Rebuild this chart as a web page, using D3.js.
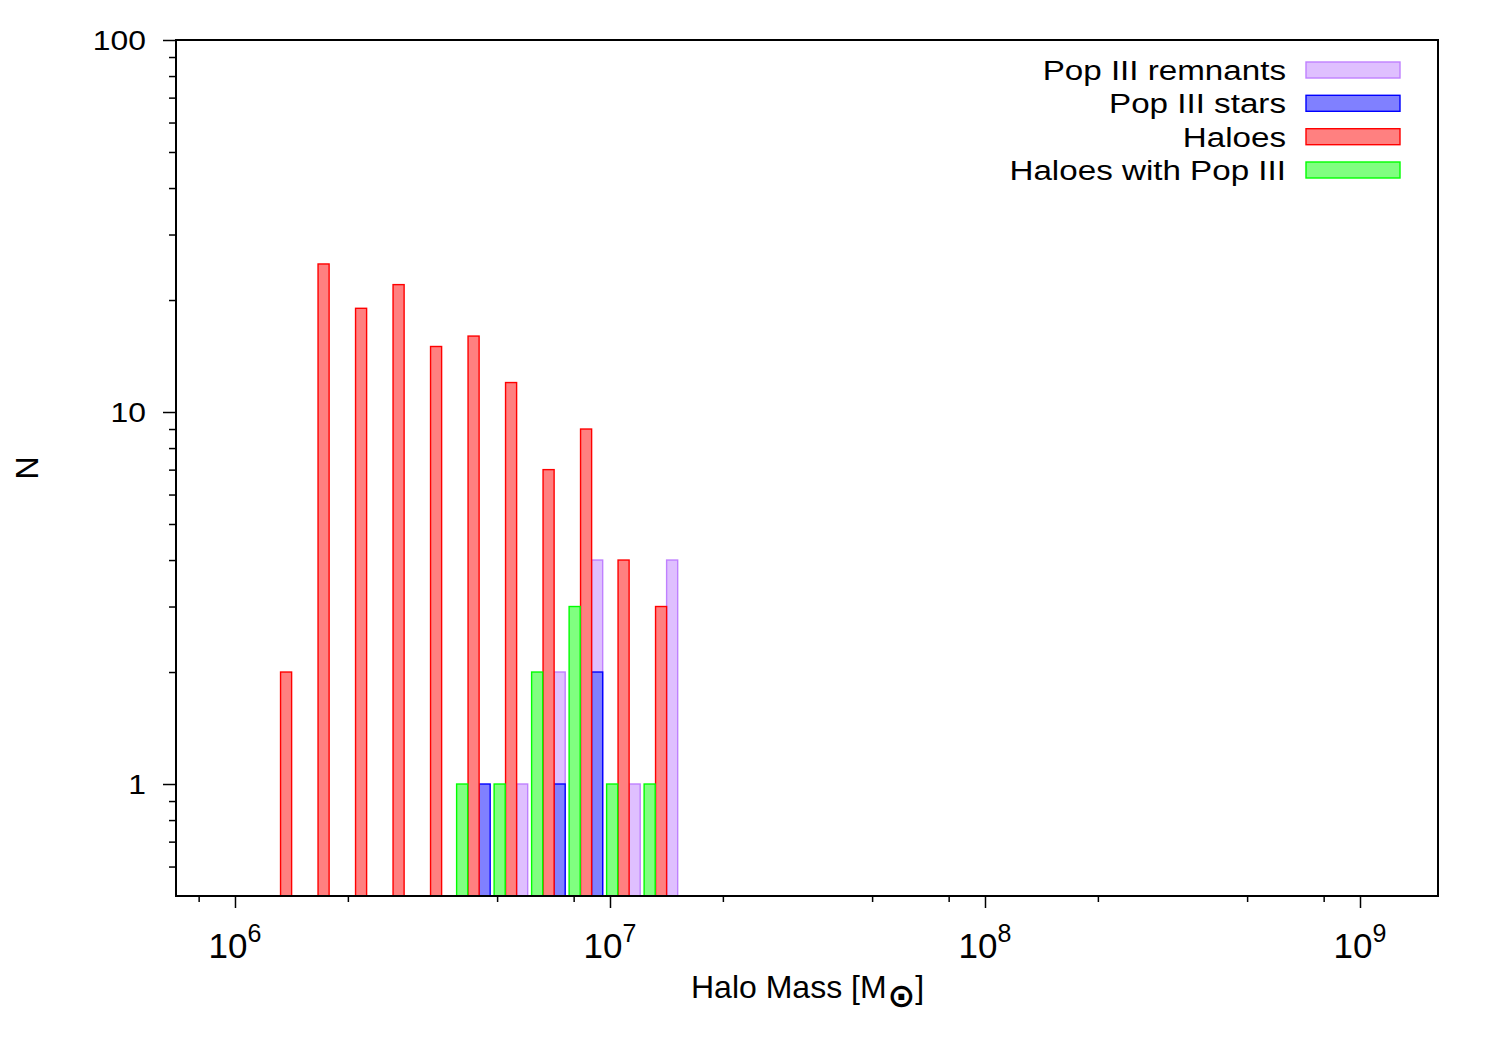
<!DOCTYPE html>
<html><head><meta charset="utf-8">
<script src="https://cdn.jsdelivr.net/npm/d3@7"></script>
<style>
body{margin:0;background:#fff}
text{font-family:"Liberation Sans",Arial,Helvetica,sans-serif;fill:#000}
</style>
</head><body>
<svg id="chart" width="1500" height="1050"></svg>
<script>
// ---- data ----
const binLowerLog = [6.1, 6.2, 6.3, 6.4, 6.5, 6.6, 6.7, 6.8, 6.9, 7.0, 7.1]; // log10(M) bin lower edges
const haloes         = [2, 25, 19, 22, 15, 16, 12, 7, 9, 4, 3];
const haloesWithPop3 = [0, 0, 0, 0, 0, 1, 1, 2, 3, 1, 1];
const pop3Stars      = [0, 0, 0, 0, 0, 1, 0, 1, 2, 0, 0];
const pop3Remnants   = [0, 0, 0, 0, 0, 0, 1, 2, 4, 1, 4];
const xMajorTicks = [1e6, 1e7, 1e8, 1e9];
const xTickExponents = ["6", "7", "8", "9"];
const yMajorTicks = [1, 10, 100];
const yTickLabels = ["1", "10", "100"];
const legendLabels = ["Pop III remnants", "Pop III stars", "Haloes", "Haloes with Pop III"];

// ---- layout / styles ----
const W = 1500, H = 1050;
const plot = {left: 176, right: 1438, top: 40, bottom: 896};
const slotWidth = 0.0295;   // dex
const series = [
  {name: legendLabels[0], values: pop3Remnants,   offset: 0.051,  fill: "#dfbfff", stroke: "#bf80ff"},
  {name: legendLabels[1], values: pop3Stars,      offset: 0.051,  fill: "#8080ff", stroke: "#0000ff"},
  {name: legendLabels[2], values: haloes,         offset: 0.0215, fill: "#ff8080", stroke: "#ff0000"},
  {name: legendLabels[3], values: haloesWithPop3, offset: -0.009, fill: "#80ff80", stroke: "#00ff00"}
];

const svg = d3.select("#chart");
svg.append("rect").attr("width", W).attr("height", H).attr("fill", "#fff");

const x = d3.scaleLog().domain([Math.pow(10, 5.8427), Math.pow(10, 9.208)]).range([plot.left, plot.right]);
const y = d3.scaleLog().domain([0.5, 100]).range([plot.bottom, plot.top]);

svg.append("clipPath").attr("id", "clip").append("rect")
  .attr("x", plot.left).attr("y", plot.top)
  .attr("width", plot.right - plot.left).attr("height", plot.bottom - plot.top);

const barsG = svg.append("g").attr("clip-path", "url(#clip)");
series.forEach(s => {
  const d = binLowerLog.map((e, i) => ({e, v: s.values[i]})).filter(o => o.v > 0);
  barsG.append("g").selectAll("rect").data(d).join("rect")
    .attr("x", o => x(Math.pow(10, o.e + s.offset)))
    .attr("width", o => x(Math.pow(10, o.e + s.offset + slotWidth)) - x(Math.pow(10, o.e + s.offset)))
    .attr("y", o => y(o.v))
    .attr("height", o => y(0.5) - y(o.v) + 2)
    .attr("fill", s.fill)
    .attr("stroke", s.stroke)
    .attr("stroke-width", 1.4);
});

const [xd0, xd1] = x.domain();
const xMinor = [];
for (let p = 5; p <= 9; p++) [2, 5, 8].forEach(m => { const v = m * Math.pow(10, p); if (v >= xd0 && v <= xd1) xMinor.push(v); });
const yMinor = [];
for (let p = -1; p <= 1; p++) for (let m = 2; m <= 9; m++) { const v = m * Math.pow(10, p); if (v > 0.5 && v < 100) yMinor.push(v); }

function styleAxis(g) {
  g.select(".domain").remove();
  g.selectAll(".tick line").attr("stroke", "#000").attr("stroke-width", 1.5);
  g.selectAll(".tick text").remove();
}

// x axis
svg.append("g").attr("transform", `translate(0,${plot.bottom})`)
  .call(d3.axisBottom(x).tickValues(xMajorTicks).tickSize(12).tickFormat(""))
  .call(styleAxis);
svg.append("g").attr("transform", `translate(0,${plot.bottom})`)
  .call(d3.axisBottom(x).tickValues(xMinor).tickSize(6).tickFormat(""))
  .call(styleAxis);
const xl = svg.append("g").selectAll("text").data(xMajorTicks).join("text")
  .attr("x", d => x(d)).attr("y", 958)
  .attr("text-anchor", "middle")
  .style("font-size", "35px");
xl.append("tspan").text("10");
xl.append("tspan").attr("dy", -16).style("font-size", "25px").text((d, i) => xTickExponents[i]);

// y axis
svg.append("g").attr("transform", `translate(${plot.left},0)`)
  .call(d3.axisLeft(y).tickValues(yMajorTicks).tickSize(13).tickFormat(""))
  .call(styleAxis);
svg.append("g").attr("transform", `translate(${plot.left},0)`)
  .call(d3.axisLeft(y).tickValues(yMinor).tickSize(7).tickFormat(""))
  .call(styleAxis);
svg.append("g").selectAll("text").data(yMajorTicks).join("text")
  .attr("transform", d => `translate(146,${y(d) + 9.5}) scale(1.18,1)`)
  .attr("text-anchor", "end")
  .style("font-size", "27px")
  .text((d, i) => yTickLabels[i]);

// border
svg.append("rect")
  .attr("x", plot.left).attr("y", plot.top)
  .attr("width", plot.right - plot.left).attr("height", plot.bottom - plot.top)
  .attr("fill", "none").attr("stroke", "#000").attr("stroke-width", 2);

// axis titles
const xt = svg.append("text").attr("x", 691).attr("y", 998).style("font-size", "32px");
xt.append("tspan").text("Halo Mass [M");
xt.append("tspan").attr("dy", 9).attr("dx", 1).style("font-family", "'DejaVu Sans'").style("font-size", "33px").style("font-weight", "bold").text("\u2299");
xt.append("tspan").attr("dy", -9).attr("dx", 0).text("]");

svg.append("text")
  .attr("transform", "translate(38,468) rotate(-90)")
  .attr("text-anchor", "middle")
  .style("font-size", "32px")
  .text("N");

// legend
const legendRowY = [70, 103.3, 136.7, 170];
const lg = svg.append("g");
series.forEach((s, i) => {
  lg.append("text")
    .attr("transform", `translate(1286,${legendRowY[i] + 10}) scale(1.185,1)`)
    .attr("text-anchor", "end")
    .style("font-size", "28px")
    .text(s.name);
  lg.append("rect")
    .attr("x", 1306).attr("y", legendRowY[i] - 8)
    .attr("width", 94).attr("height", 16)
    .attr("fill", s.fill).attr("stroke", s.stroke).attr("stroke-width", 1.4);
});
</script>
</body></html>
